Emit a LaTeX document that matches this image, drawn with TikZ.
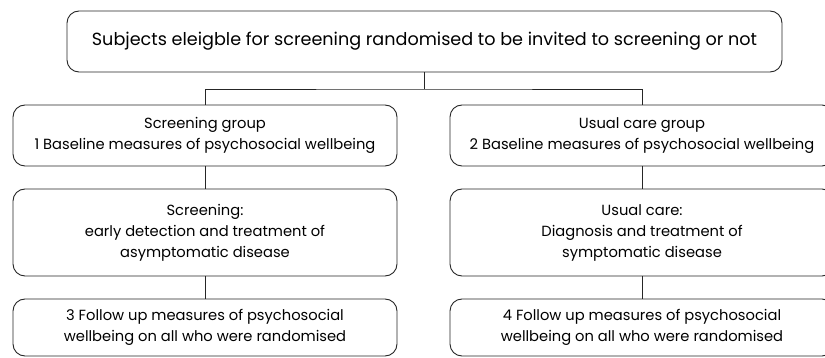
\documentclass[tikz,border=0pt]{standalone}
\usepackage{fontspec}
\setmainfont{Poppins}
\begin{document}
\begin{tikzpicture}[x=1pt,y=-1pt,
  box/.style={draw=black!85, line width=0.9pt, rounded corners=12pt, align=center,
    inner sep=0pt, minimum width=384pt, font=\fontsize{14.7}{21}\selectfont},
  topbox/.style={box, minimum width=715pt, minimum height=61pt, font=\fontsize{17.6}{21}\selectfont},
  link/.style={draw=black!85, line width=0.9pt}]
\useasboundingbox (0,0) rectangle (825,358);
\clip (0,0) rectangle (825,358);
\node[topbox] (top) at (424.5,41.5) {Subjects eleigble for screening randomised to be invited to screening or not};
\node[box, minimum height=61pt] (b1) at (205,135.5) {Screening group\\1 Baseline measures of psychosocial wellbeing};
\node[box, minimum height=87pt] (b2) at (205,232.5) {Screening:\\early detection and treatment of\\asymptomatic disease};
\node[box, minimum height=57pt] (b3) at (205,327.5) {3 Follow up measures of psychosocial\\wellbeing on all who were randomised};
\node[box, minimum height=61pt] (c1) at (642,135.5) {Usual care group\\2 Baseline measures of psychosocial wellbeing};
\node[box, minimum height=87pt] (c2) at (642,232.5) {Usual care:\\Diagnosis and treatment of\\symptomatic disease};
\node[box, minimum height=57pt] (c3) at (642,327.5) {4 Follow up measures of psychosocial\\wellbeing on all who were randomised};
\coordinate (bus) at (424.5,89);
\draw[link] (top.south) -- (bus);
\draw[link] (b1.north) |- (bus) -| (c1.north);
\draw[link] (b1) -- (b2);
\draw[link] (b2) -- (b3);
\draw[link] (c1) -- (c2);
\draw[link] (c2) -- (c3);
\end{tikzpicture}
\end{document}
